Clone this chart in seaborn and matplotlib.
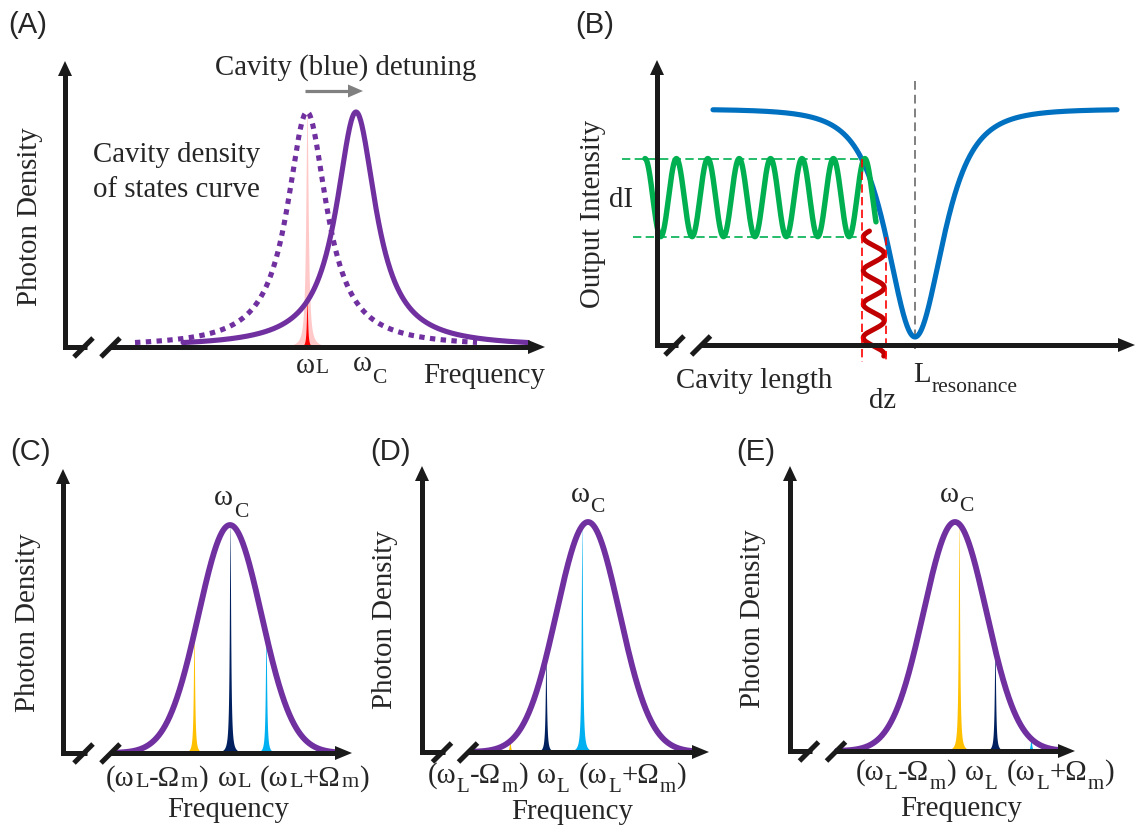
import numpy as np
import matplotlib
matplotlib.use("Agg")
import matplotlib.pyplot as plt
import seaborn as sns

# ---------------- data ----------------
# (A) cavity density of states vs frequency; laser at wL = 0,
#     frequency unit = cavity detuning (wC - wL)
a_cavity_centers = [0.0, 1.0]          # before (dotted) and after (solid) blue detuning
a_cavity_hwhm = 0.49
a_resonant_span = [-3.51, 3.47]
a_detuned_span = [-2.53, 4.51]
a_laser_freq = 0.0
a_laser_linewidth = 0.016
a_laser_halo_linewidth = 0.03

# (B) output intensity vs cavity length; L_resonance = 0
b_resonance = 0.0
b_dip_width = 1.0
b_dip_depth = 0.966
b_curve_span = [-4.04, 4.04]
b_dz = [-1.07, -0.58]                   # cavity length excursion
b_length_mod_amp = 0.21
b_length_mod_period = 0.142             # drawn running down the intensity axis
b_length_mod_span = [0.483, -0.047]
b_length_mod_ref = 0.386
b_intensity_period = 0.628              # drawn running along the length axis
b_intensity_span = [-5.40, -0.78]
b_guide_starts = [-5.86, -5.64]
b_guide_bottom = -0.072
b_resonance_line = [1.119, -0.017]

# (C)-(E) cavity line with laser carrier and sidebands; frequency in units of Ωm, wC = 0
cde_laser_detuning = [0.0, -1.17, 1.11]
cde_cavity_hwhm = 1.03
cde_curve_spans = [[-3.10, 2.97], [-3.28, 2.92], [-3.28, 3.06]]
sideband_orders = [-1, 0, 1]
sideband_linewidth = 0.022

# ---------------- style ----------------
PURPLE = "#7030A0"
BLUE = "#0070C0"
GREEN = "#00B050"
DARKRED = "#C00000"
RED = "#FF0000"
GRAY = "#808080"
SIDEBAND_COLORS = {-1: "#FFC000", 0: "#002060", 1: "#00B0F0"}

W, H, DPI = 1136, 828, 100
FS = 20.8
FS_SUB = 15.5
AX_LW = 3.6

sns.set_theme(style="white")
plt.rcParams["font.family"] = ["Liberation Serif", "DejaVu Serif"]

fig = plt.figure(figsize=(W / DPI, H / DPI), dpi=DPI)
fig.patch.set_facecolor("white")

# overlay in pixel units for axis arrows and text
deco = fig.add_axes([0, 0, 1, 1], zorder=3)
deco.set_xlim(0, W)
deco.set_ylim(H, 0)
deco.axis("off")
deco.patch.set_alpha(0)
renderer = fig.canvas.get_renderer()


def panel_axes(frame, x0_px, x_scale, y_scale):
    left, right, base, top, _ = frame
    ax = fig.add_axes([left / W, 1 - base / H, (right - left) / W, (base - top) / H], zorder=2)
    ax.set_xlim((left - x0_px) / x_scale, (right - x0_px) / x_scale)
    ax.set_ylim(0, (base - top) / y_scale)
    ax.axis("off")
    ax.patch.set_alpha(0)
    return ax


def draw_frame(frame):
    left, right, base, top, breaks = frame
    deco.plot([left, left, breaks[0] + 3], [top + 14, base, base], color="k", lw=AX_LW,
              solid_joinstyle="miter", solid_capstyle="butt")
    deco.plot([breaks[1] - 0.5, right - 16], [base, base], color="k", lw=AX_LW, solid_capstyle="butt")
    deco.fill([left - 7, left + 7, left], [top + 15, top + 15, top], color="k", lw=0)
    deco.fill([right - 17, right - 17, right], [base - 7, base + 7, base], color="k", lw=0)
    for cx in breaks:
        deco.plot([cx - 9.5, cx + 9.5], [base + 10, base - 9], color="k", lw=AX_LW, solid_capstyle="butt")


def rich(pieces, x, y, ha="center", **kw):
    items = []
    for p in pieces:
        if isinstance(p, (int, float)):
            items.append((None, p, 0))
            continue
        s, size, dy = p
        t = deco.text(0, 0, s, fontsize=size, va="baseline", ha="left", **kw)
        w = t.get_window_extent(renderer).width
        items.append((t, w + 0.5, dy))
    total = sum(w for _, w, _ in items)
    cx = x - total / 2 if ha == "center" else x
    for t, w, dy in items:
        if t is not None:
            t.set_position((cx, y + dy))
        cx += w


def lorentz(x, c, w):
    return 1.0 / (1.0 + ((x - c) / w) ** 2)


def gauss(x, c, hwhm):
    return np.exp(-np.log(2) * ((x - c) / hwhm) ** 2)


def line(ax, x, y, color, lw, **kw):
    sns.lineplot(x=x, y=y, ax=ax, color=color, lw=lw, sort=False, estimator=None,
                 clip_on=False, **kw)


# ---------------- (A) ----------------
frame_a = (65, 545, 348, 62, (83.5, 110.5))
ax_a = panel_axes(frame_a, 307, 49, 235)
draw_frame(frame_a)

xl = a_laser_freq + np.linspace(-0.4, 0.4, 4001)
halo_h = lorentz(a_laser_freq, a_cavity_centers[0], a_cavity_hwhm)
ax_a.fill_between(xl, 0, halo_h * lorentz(xl, a_laser_freq, a_laser_halo_linewidth),
                  color="#FFB8B8", alpha=0.75, lw=0, zorder=1)
laser_h = lorentz(a_laser_freq, a_cavity_centers[1], a_cavity_hwhm)
ax_a.fill_between(xl, 0, laser_h * lorentz(xl, a_laser_freq, a_laser_linewidth),
                  color=RED, lw=0, zorder=2)

xs = np.linspace(*a_resonant_span, 900)
line(ax_a, xs, lorentz(xs, a_cavity_centers[0], a_cavity_hwhm), PURPLE, 3.7,
     linestyle=(0, (1.05, 1.05)), dash_capstyle="butt", zorder=3)
xs = np.linspace(*a_detuned_span, 900)
line(ax_a, xs, lorentz(xs, a_cavity_centers[1], a_cavity_hwhm), PURPLE, 3.7, zorder=4)

# detuning arrow
deco.plot([305, 349], [92, 92], color=GRAY, lw=2.3, solid_capstyle="butt")
deco.fill([348, 348, 363], [85.5, 98.5, 92], color=GRAY, lw=0)

deco.text(28, 25, "(A)", fontsize=21, family="Liberation Sans", ha="center", va="center")
deco.text(346, 75, "Cavity (blue) detuning", fontsize=FS, ha="center", va="baseline")
deco.text(93, 162, "Cavity density", fontsize=FS, ha="left", va="baseline")
deco.text(93, 197, "of states curve", fontsize=FS, ha="left", va="baseline")
deco.text(30, 217, "Photon Density", fontsize=FS, rotation=90, ha="center", va="center")
rich([("ω", FS, 0), ("L", FS_SUB, 0)], 312.5, 373)
rich([("ω", FS, 0), ("C", FS_SUB, 12)], 370, 371)
deco.text(484, 383, "Frequency", fontsize=FS, ha="center", va="baseline")

# ---------------- (B) ----------------
frame_b = (657, 1135, 346, 61, (674.5, 701))
ax_b = panel_axes(frame_b, 915, 50, 236)
draw_frame(frame_b)


def intensity(z):
    return 1.0 - b_dip_depth / (1.0 + ((z - b_resonance) / b_dip_width) ** 2) ** 2


zs = np.linspace(*b_curve_span, 1200)
line(ax_b, zs, intensity(zs), BLUE, 3.7, zorder=2)

i_hi, i_lo = intensity(b_dz[0]), intensity(b_dz[1])
ts = np.linspace(*b_intensity_span, 1500)
green = (i_hi + i_lo) / 2 + (i_hi - i_lo) / 2 * np.cos(2 * np.pi * (ts - b_intensity_span[0]) / b_intensity_period)
line(ax_b, ts, green, GREEN, 3.9, zorder=3)

ss = np.linspace(*b_length_mod_span, 1200)
z_mid = (b_dz[0] + b_dz[1]) / 2
red_wave = z_mid + b_length_mod_amp * np.cos(2 * np.pi * (ss - b_length_mod_ref) / b_length_mod_period)
line(ax_b, red_wave, ss, DARKRED, 3.6, zorder=4)

dash_kw = dict(lw=1.2, linestyle=(0, (5, 2.6)), clip_on=False, zorder=5)
ax_b.plot([b_guide_starts[0], b_dz[0]], [i_hi, i_hi], color=GREEN, **dash_kw)
ax_b.plot([b_guide_starts[1], b_dz[0]], [i_lo, i_lo], color=GREEN, **dash_kw)
ax_b.plot([b_dz[0], b_dz[0]], [i_hi, b_guide_bottom], color=RED, **dash_kw)
ax_b.plot([b_dz[1], b_dz[1]], [i_lo, b_guide_bottom], color=RED, **dash_kw)
ax_b.plot([b_resonance, b_resonance], b_resonance_line, color=GRAY, lw=1.4,
          linestyle=(0, (4.5, 2.6)), clip_on=False, zorder=1)

deco.text(595, 25, "(B)", fontsize=21, family="Liberation Sans", ha="center", va="center")
deco.text(593, 214, "Output Intensity", fontsize=FS, rotation=90, ha="center", va="center")
deco.text(621, 207, "dI", fontsize=FS, ha="center", va="baseline")
deco.text(754, 388, "Cavity length", fontsize=FS, ha="center", va="baseline")
deco.text(883, 408, "dz", fontsize=FS, ha="center", va="baseline")
rich([("L", FS, 0), ("resonance", FS_SUB, 10)], 913, 382, ha="left")

# ---------------- (C)-(E) ----------------
frames_cde = [
    (63, 352, 754, 470, (83.5, 110.5)),
    (422, 709, 753, 467, (442, 468)),
    (790, 1075, 752, 467, (809, 836)),
]
centers_px = [230, 588, 955]
heights_px = [228, 230, 229]
panel_letters = ["(C)", "(D)", "(E)"]
letter_x = [31, 390, 756]
wc_pos = [(231.5, 505, 12), (588, 502, 10), (957, 502, 9)]
label_pos = [(237.5, 786, 1, 16.0), (557, 783, 9, 15.0), (985, 780, 9, 15.0)]
freq_pos = [(228, 817), (572, 819), (961, 816)]
ylabel_pos = [(28, 623), (385, 620), (753, 619)]

for i in range(3):
    ax = panel_axes(frames_cde[i], centers_px[i], 36, heights_px[i])
    draw_frame(frames_cde[i])
    d = cde_laser_detuning[i]
    for order in sideband_orders:
        f = d + order
        h = gauss(f, 0.0, cde_cavity_hwhm)
        xl = f + np.linspace(-0.4, 0.4, 4001)
        ax.fill_between(xl, 0, h * lorentz(xl, f, sideband_linewidth),
                        color=SIDEBAND_COLORS[order], lw=0, zorder=1)
    xs = np.linspace(*cde_curve_spans[i], 900)
    line(ax, xs, gauss(xs, 0.0, cde_cavity_hwhm), PURPLE, 4.2, zorder=3)

    deco.text(letter_x[i], 452, panel_letters[i], fontsize=21, family="Liberation Sans",
              ha="center", va="center")
    x, y, dy = wc_pos[i]
    rich([("ω", FS, 0), ("C", FS_SUB, dy)], x, y)
    x, y, dy, ss_ = label_pos[i]
    rich([("(ω", FS, 0), ("L", ss_, dy), ("-Ω", FS, 0), ("m", ss_, dy), (")", FS, 0), 9,
          ("ω", FS, 0), ("L", ss_, dy), 9,
          ("(ω", FS, 0), ("L", ss_, dy), ("+Ω", FS, 0), ("m", ss_, dy), (")", FS, 0)], x, y)
    deco.text(freq_pos[i][0], freq_pos[i][1], "Frequency", fontsize=FS, ha="center", va="baseline")
    deco.text(ylabel_pos[i][0], ylabel_pos[i][1], "Photon Density", fontsize=FS, rotation=90,
              ha="center", va="center")

fig.savefig("out.png", dpi=DPI, facecolor="white")
